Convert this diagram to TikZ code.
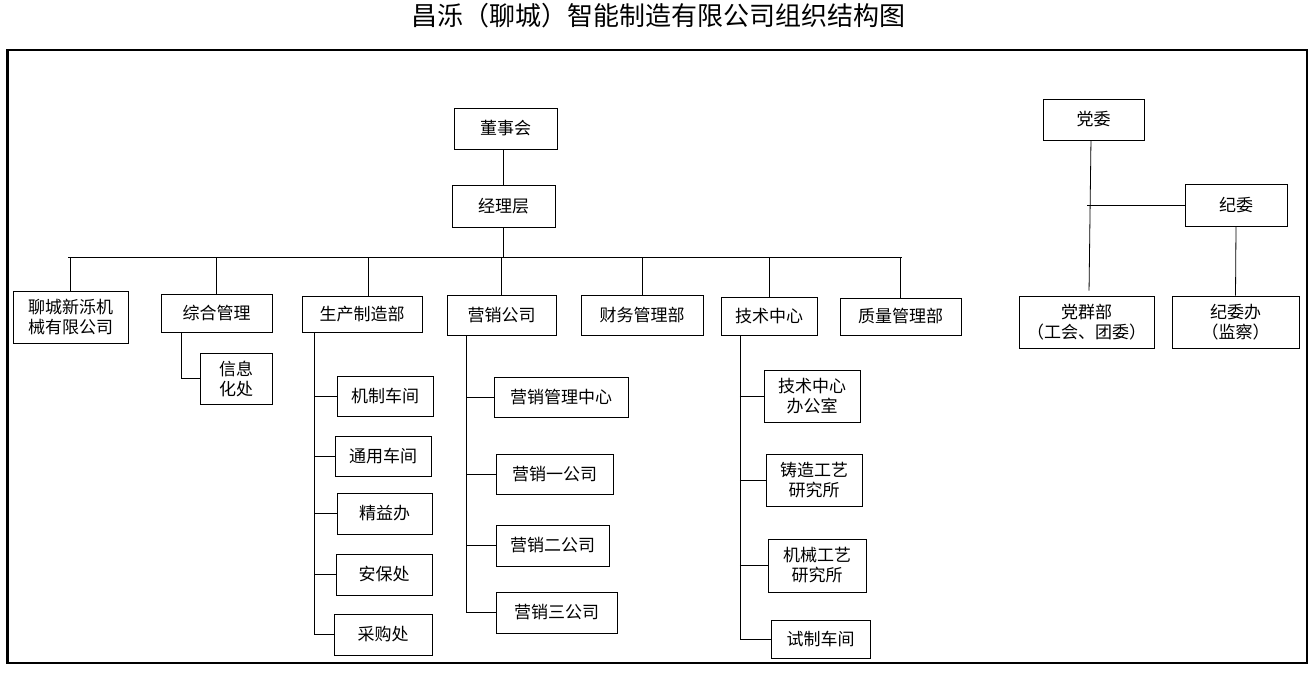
\documentclass[tikz,border=0pt]{standalone}
\usepackage{fontspec}
\newfontfamily\cjk{Noto Sans CJK SC}
\usetikzlibrary{calc}

\tikzset{
  dept/.style 2 args={draw, line width=0.6pt, inner sep=0pt, align=center,
    minimum width=#1*0.75pt, minimum height=#2*0.75pt},
  link/.style={line width=0.6pt},
}

\begin{document}
\begin{tikzpicture}[x=0.75pt,y=-0.75pt,font=\cjk\fontsize{12.75}{15}\selectfont]
\useasboundingbox (0,0) rectangle (1313,674);

\node (title) at (658,16) {\fontsize{19.5}{22}\selectfont 昌泺（聊城）智能制造有限公司组织结构图};
\draw[line width=1.6pt] (7.5,50) rectangle (1307,663);

% top
\node[dept={103}{41}] (dsh) at (505.5,128.5) {董事会};
\node[dept={103}{42}] (jlc) at (503.5,206) {经理层};

% departments
\node[dept={115}{52}] (lcx) at (70.5,317) {聊城新泺机\\械有限公司};
\node[dept={111}{38}] (zhgl) at (216.5,313) {综合管理};
\node[dept={120}{36}] (sczz) at (362,314) {生产制造部};
\node[dept={109}{40}] (yxgs) at (501.5,315) {营销公司};
\node[dept={122}{40}] (cwgl) at (642,315) {财务管理部};
\node[dept={96}{38}] (jszx) at (769,316) {技术中心};
\node[dept={121}{37}] (zlgl) at (900.5,316.5) {质量管理部};

\node[dept={72}{51}] (xxh) at (236,378.5) {信息\\化处};

\node[dept={96}{40}] (jzcj) at (385,396) {机制车间};
\node[dept={96}{40}] (tycj) at (383,456) {通用车间};
\node[dept={95}{41}] (jyb) at (384.5,513.5) {精益办};
\node[dept={96}{41}] (abc) at (384,574.5) {安保处};
\node[dept={98}{41}] (cgc) at (383,634.5) {采购处};

\node[dept={134}{40}] (yxzx) at (561,397) {营销管理中心};
\node[dept={117}{40}] (yx1) at (554.5,474) {营销一公司};
\node[dept={113}{41}] (yx2) at (552.5,545.5) {营销二公司};
\node[dept={121}{41}] (yx3) at (556.5,612.5) {营销三公司};

\node[dept={96}{52}] (jsbg) at (812,396) {技术中心\\办公室};
\node[dept={96}{52}] (zzgy) at (814,480) {铸造工艺\\研究所};
\node[dept={98}{53}] (jxgy) at (817,565.5) {机械工艺\\研究所};
\node[dept={99}{38}] (szcj) at (820.5,639) {试制车间};

% party
\node[dept={101}{41}] (dw) at (1093.5,119.5) {党委};
\node[dept={102}{42}] (jw) at (1236,205) {纪委};
\node[dept={135}{52}] (dqb) at (1086.5,322) {党群部\\（工会、团委）};
\node[dept={127}{52}] (jwb) at (1235.5,322) {纪委办\\（监察）};

% links
\draw[link] (jlc.north |- dsh.south) -- (jlc.north);
\coordinate (barL) at (68,257);
\coordinate (barR) at (902,257);
\draw[link] (barL) -- (barR);
\draw[link] (jlc.south) -- (jlc.south |- barL);
\foreach \n in {lcx,zhgl,yxgs,cwgl,jszx,zlgl}
  \draw[link] (\n.north) -- (\n.north |- barL);
\coordinate (scN) at ([xshift=4.5pt]sczz.north);
\draw[link] (scN) -- (scN |- barL);

\coordinate (zhT) at ($(zhgl.south west)!.19!(zhgl.south east)$);
\draw[link] (zhT) |- (xxh.west);

\coordinate (scT) at ($(sczz.south west)!.11!(sczz.south east)$);
\draw[link] (scT) |- (cgc.west);
\foreach \n in {jzcj,tycj,jyb,abc}
  \draw[link] (scT |- \n.west) -- (\n.west);

\coordinate (yxT) at ($(yxgs.south west)!.18!(yxgs.south east)$);
\draw[link] (yxT) |- (yx3.west);
\foreach \n in {yxzx,yx1,yx2}
  \draw[link] (yxT |- \n.west) -- (\n.west);

\coordinate (jsT) at ($(jszx.south west)!.2!(jszx.south east)$);
\draw[link] (jsT) |- (szcj.west);
\foreach \n in {jsbg,zzgy,jxgy}
  \draw[link] (jsT |- \n.west) -- (\n.west);

\coordinate (dwB) at ([xshift=-1.9pt]dw.south);
\coordinate (dqT) at ([xshift=1.9pt,yshift=3.75pt]dqb.north);
\draw[link] (dwB) -- (dqT);
\draw[link] (jw.west) -- ++(-98,0);
\draw[link] (jw.south) -- (jwb.north);

\end{tikzpicture}
\end{document}
